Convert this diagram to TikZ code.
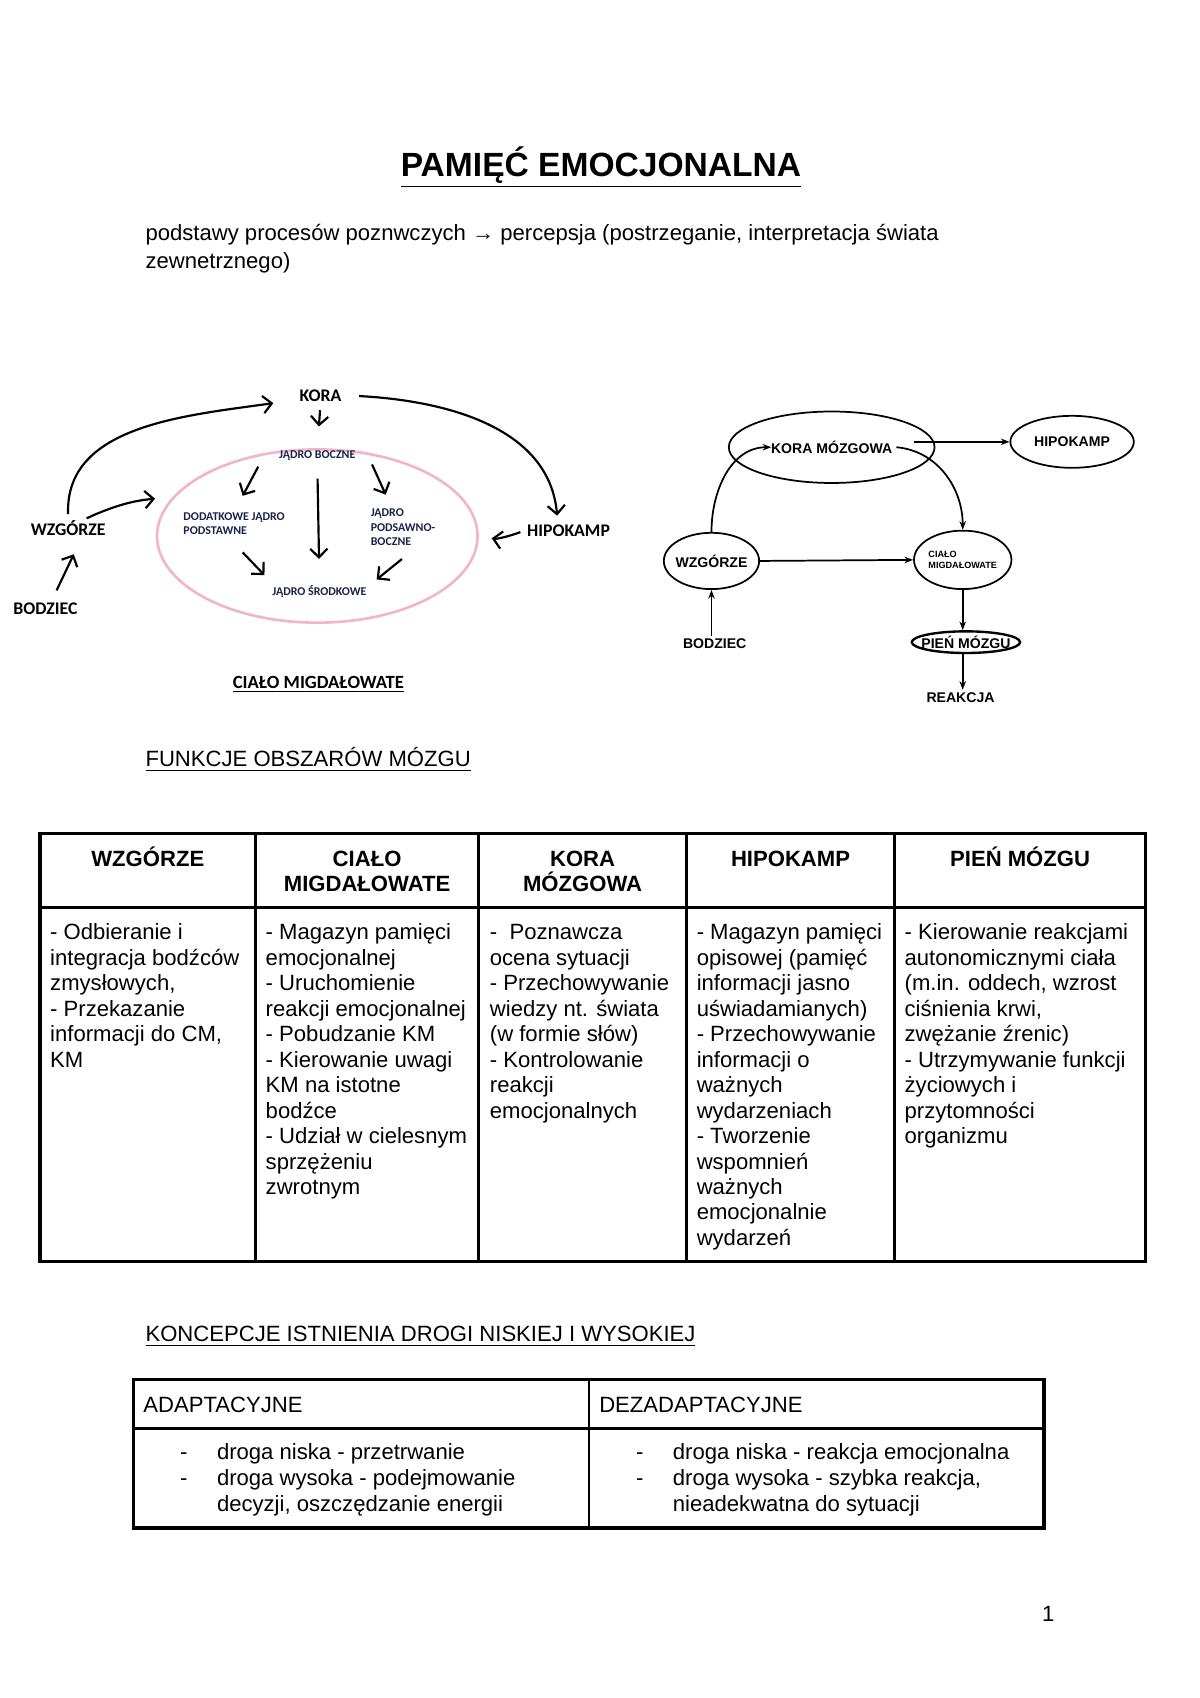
\documentclass[tikz,border=0pt]{standalone}
\usepackage{fontspec}
\setmainfont{Liberation Sans}
\newfontfamily\calfont{Carlito}
\usetikzlibrary{arrows.meta,shapes.geometric}
\definecolor{amygpink}{RGB}{244,180,200}
\definecolor{navyink}{RGB}{25,35,75}
\newcommand{\bodyfont}{\fontsize{10.2}{11.75}\selectfont}
\tikzstyle{hand}=[font=\calfont\bfseries\fontsize{8.2}{9}\selectfont, inner sep=1pt]
\tikzstyle{handsmall}=[font=\calfont\bfseries\fontsize{5.5}{6.6}\selectfont, text=navyink, inner sep=1pt, align=left]
\tikzstyle{handarrow}=[line width=1pt, -{Straight Barb[length=4pt,width=8pt]}]
\tikzstyle{blob}=[ellipse, draw, line width=0.8pt, inner sep=0pt, font=\bfseries\fontsize{6.5}{7}\selectfont]
\tikzstyle{flow}=[line width=0.8pt, -{Stealth[length=4pt,width=3pt]}]
\tikzstyle{plain}=[inner sep=0pt, font=\bodyfont, align=left]
\tikzstyle{tab}=[line width=1.5pt]

\begin{document}
\begin{tikzpicture}[x=0.5pt, y=-0.5pt]
  \fill[white] (0,0) rectangle (1108,1568);
  \useasboundingbox (0,0) rectangle (1108,1568);

  % title and intro (multi-line nodes sit on their last line)
  \node[inner sep=0pt, anchor=base, font=\bfseries\fontsize{15.5}{18}\selectfont] (title) at (555,163) {\underline{PAMIĘĆ EMOCJONALNA}};
  \node[plain, anchor=base west, font=\fontsize{10.2}{13}\selectfont] (intro) at (134,248)
    {podstawy procesów poznwczych → percepsja (postrzeganie, interpretacja świata\\zewnetrznego)};

  % left: hand drawn amygdala
  \node[ellipse, draw=amygpink, line width=1.2pt, minimum width=148pt, minimum height=80pt] (amyg) at (293,495) {};
  \node[hand] (kora) at (296,365) {KORA};
  \node[hand] (wzg) at (63,488) {WZGÓRZE};
  \node[hand] (bodz) at (42,562) {BODZIEC};
  \node[hand] (hipo) at (525,490) {HIPOKAMP};
  \node[handsmall] (jb) at (293,421) {JĄDRO BOCZNE};
  \node[handsmall, anchor=west] (dj) at (167,483.5) {DODATKOWE JĄDRO\\PODSTAWNE};
  \node[handsmall, anchor=west] (jpb) at (340,487) {JĄDRO\\PODSAWNO-\\BOCZNE};
  \node[handsmall] (js) at (295,546) {JĄDRO ŚRODKOWE};
  \node[hand, font=\calfont\bfseries\fontsize{8.6}{9}\selectfont] (cmlab) at (294,632) {\underline{CIAŁO MIGDAŁOWATE}};

  \draw[handarrow, shorten <=3pt, shorten >=10pt] (kora.south) -- (amyg.north);
  \draw[handarrow, shorten <=2pt, shorten >=1pt] (wzg.north) to[out=92, in=188] ([shift={(-20,7)}]kora.west);
  \draw[handarrow, shorten >=8pt] ([xshift=-10pt]wzg.north east) to[out=25, in=185] (amyg.165);
  \draw[handarrow, shorten <=5pt, shorten >=8pt] ([xshift=3pt]bodz.north) -- ([xshift=6pt]wzg.south);
  \draw[handarrow, shorten <=7pt, shorten >=3pt] (kora.east) to[out=-3, in=95] ([xshift=-5pt]hipo.north);
  \draw[handarrow, shorten <=2pt, shorten >=6pt] (hipo.west) to[out=200, in=-10] (amyg.east);
  \draw[handarrow] ([shift={(-17,3)}]jb.south west) -- ([shift={(8,-13)}]dj.north);
  \draw[handarrow] ([shift={(13,1)}]jb.south east) -- ([shift={(-16,-11)}]jpb.north);
  \draw[handarrow, shorten <=7pt, shorten >=11pt] (jb.south) -- (js.north);
  \draw[handarrow] ([shift={(8,14)}]dj.south) -- ([shift={(-5,-7)}]js.north west);
  \draw[handarrow] ([shift={(-1,10)}]jpb.south) -- ([shift={(7,-3)}]js.north east);

  % right: pathway scheme
  \node[blob, minimum width=95pt, minimum height=33pt] (kmz) at (768,413) {KORA MÓZGOWA};
  \node[blob, minimum width=57pt, minimum height=24pt] (hpk) at (990,408) {HIPOKAMP};
  \node[blob, minimum width=44pt, minimum height=26pt] (wzr) at (657,518) {\makebox[0pt]{WZGÓRZE}};
  \node[blob, minimum width=45pt, minimum height=27pt, align=left, font=\bfseries\fontsize{4.2}{5.5}\selectfont] (cmr) at (889,517) {CIAŁO\\MIGDAŁOWATE};
  \node[blob, line width=1.1pt, minimum width=50pt, minimum height=10pt] (pien) at (892,593) {\makebox[0pt]{PIEŃ MÓZGU}};
  \node[inner sep=1pt, font=\bfseries\fontsize{6.5}{7}\selectfont] (bodzr) at (660,594) {BODZIEC};
  \node[inner sep=1pt, font=\bfseries\fontsize{6.5}{7}\selectfont] (reak) at (887,644) {REAKCJA};

  \draw[flow] ([shift={(-20,-5)}]kmz.east) -- (hpk.west);
  \draw[flow] (wzr.east) -- (cmr.west);
  \draw[flow] (wzr.north) to[out=90, in=180] ([xshift=20pt]kmz.west);
  \draw[flow] ([xshift=-18pt]kmz.east) to[out=-5, in=90] (cmr.north);
  \draw[flow] (wzr.south |- bodzr.north) -- (wzr.south);
  \draw[flow] (cmr.south) -- (cmr.south |- pien.north);
  \draw[flow] (cmr.south |- pien.south) -- (cmr.south |- reak.north);

  % table 1
  \node[plain, anchor=base west] (funk) at (134,708) {\underline{FUNKCJE OBSZARÓW MÓZGU}};
  \draw[tab] (37,770) rectangle (1058,1165);
  \foreach \x in {236,442,634,826}
    \draw[tab] (\x,770) -- (\x,1165);
  \draw[tab] (37,838) -- (1058,838);

  \node[plain, anchor=base, align=center, font=\bfseries\bodyfont] (h1) at (136.5,800) {WZGÓRZE};
  \node[plain, anchor=base, align=center, font=\bfseries\bodyfont] (h2) at (339,823.5) {CIAŁO\\MIGDAŁOWATE};
  \node[plain, anchor=base, align=center, font=\bfseries\bodyfont] (h3) at (538,823.5) {KORA\\MÓZGOWA};
  \node[plain, anchor=base, align=center, font=\bfseries\bodyfont] (h4) at (730,800) {HIPOKAMP};
  \node[plain, anchor=base, align=center, font=\bfseries\bodyfont] (h5) at (942,800) {PIEŃ MÓZGU};

  \node[plain, anchor=base west] (c1) at (46,985.5) {- Odbieranie i\\integracja bodźców\\zmysłowych,\\- Przekazanie\\informacji do CM,\\KM};
  \node[plain, anchor=base west] (c2) at (245,1103) {- Magazyn pamięci\\emocjonalnej\\- Uruchomienie\\reakcji emocjonalnej\\- Pobudzanie KM\\- Kierowanie uwagi\\KM na istotne\\bodźce\\- Udział w cielesnym\\sprzężeniu\\zwrotnym};
  \node[plain, anchor=base west] (c3) at (452,1032.5) {-~ Poznawcza\\ocena sytuacji\\- Przechowywanie\\wiedzy nt. świata\\(w formie słów)\\- Kontrolowanie\\reakcji\\emocjonalnych};
  \node[plain, anchor=base west] (c4) at (643,1150) {- Magazyn pamięci\\opisowej (pamięć\\informacji jasno\\uświadamianych)\\- Przechowywanie\\informacji o\\ważnych\\wydarzeniach\\- Tworzenie\\wspomnień\\ważnych\\emocjonalnie\\wydarzeń};
  \node[plain, anchor=base west] (c5) at (835,1056) {- Kierowanie reakcjami\\autonomicznymi ciała\\(m.in. oddech, wzrost\\ciśnienia krwi,\\zwężanie źrenic)\\- Utrzymywanie funkcji\\życiowych i\\przytomności\\organizmu};

  % table 2
  \node[plain, anchor=base west] (konc) at (134,1239) {\underline{KONCEPCJE ISTNIENIA DROGI NISKIEJ I WYSOKIEJ}};
  \draw[tab] (123,1274) rectangle (964,1411);
  \draw[line width=1.1pt] (544,1274) -- (544,1411);
  \draw[line width=1.1pt] (123,1319) -- (964,1319);

  \node[plain, anchor=base west] (ad) at (132,1304) {ADAPTACYJNE};
  \node[plain, anchor=base west] (dez) at (553,1304) {DEZADAPTACYJNE};
  \node[plain, anchor=base west, font=\fontsize{10.2}{12}\selectfont] (adm) at (166,1372) {-\\-};
  \node[plain, anchor=base west, font=\fontsize{10.2}{12}\selectfont] (adt) at (200,1396) {droga niska - przetrwanie\\droga wysoka - podejmowanie\\decyzji, oszczędzanie energii};
  \node[plain, anchor=base west, font=\fontsize{10.2}{12}\selectfont] (dezm) at (587,1372) {-\\-};
  \node[plain, anchor=base west, font=\fontsize{10.2}{12}\selectfont] (dezt) at (621,1396) {droga niska - reakcja emocjonalna\\droga wysoka - szybka reakcja,\\nieadekwatna do sytuacji};

  \node[plain, anchor=base] (page) at (968,1497) {1};
\end{tikzpicture}
\end{document}
